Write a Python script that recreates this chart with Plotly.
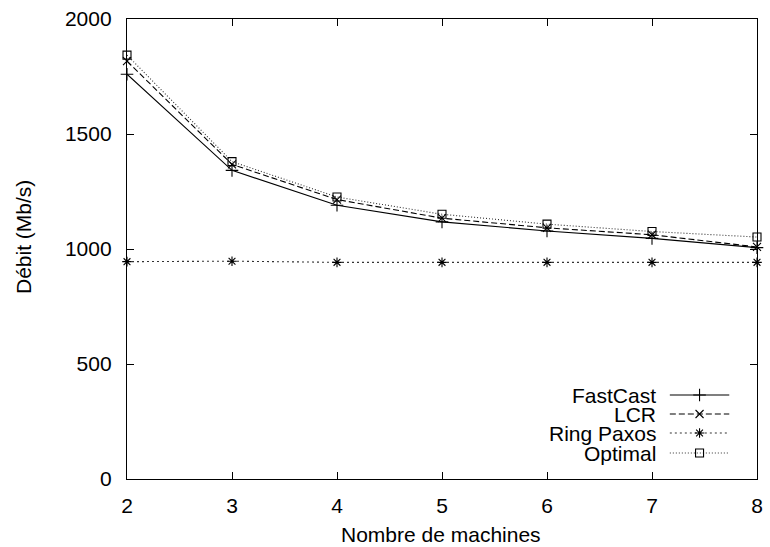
import plotly.graph_objects as go

machines = [2, 3, 4, 5, 6, 7, 8]
fastcast = [1760, 1342, 1190, 1118, 1078, 1046, 1006]
lcr = [1817, 1368, 1215, 1134, 1092, 1062, 1009]
ring_paxos = [945, 947, 942, 942, 942, 942, 942]
optimal = [1843, 1380, 1226, 1151, 1108, 1076, 1052]

x_ticks = [2, 3, 4, 5, 6, 7, 8]
y_ticks = [0, 500, 1000, 1500, 2000]

series_names = ["FastCast", "LCR", "Ring Paxos", "Optimal"]
series_values = [fastcast, lcr, ring_paxos, optimal]
dashes = ["solid", "6px,3px", "2px,3px", "1px,2px"]
colors = ["#000000", "#000000", "#333333", "#333333"]
symbols = ["cross-thin-open", "x-thin-open", "asterisk-open", "square-open"]
msizes = [9, 8, 8, 8]

FONT = "Liberation Sans, Arial, Helvetica, sans-serif"
FS = 21

fig = go.Figure()
for name, vals, dash, col, sym, ms in zip(series_names, series_values, dashes, colors, symbols, msizes):
    fig.add_trace(go.Scatter(
        x=machines, y=vals, name=name, mode="lines+markers",
        line=dict(color=col, width=1.1, dash=dash),
        marker=dict(symbol=sym, size=ms, color="black", line=dict(color="black", width=1.1)),
        showlegend=False, cliponaxis=False,
    ))

# manual gnuplot-style legend (text left, sample right)
W, H = 636, 460
L, T = 127, 19
def px_x(p):
    return (p - L) / W
def px_y(p):
    return (T + H - p) / H

rows = [395, 414, 433, 453]
text_right = 663
line_x0, line_x1, mark_x = 675, 735, 705
for name, dash, col, sym, ms, ry in zip(series_names, dashes, colors, symbols, msizes, rows):
    fig.add_annotation(x=px_x(text_right), y=px_y(ry), xref="paper", yref="paper",
                       text=name, showarrow=False, xanchor="right", yanchor="middle",
                       font=dict(family=FONT, size=FS, color="black"))
    fig.add_trace(go.Scatter(
        x=[px_x(line_x0), px_x(mark_x), px_x(line_x1)], y=[px_y(ry)] * 3,
        xaxis="x2", yaxis="y2", mode="lines", showlegend=False, hoverinfo="skip",
        line=dict(color=col, width=1.1, dash=dash), cliponaxis=False))
    fig.add_trace(go.Scatter(
        x=[px_x(mark_x)], y=[px_y(ry)],
        xaxis="x2", yaxis="y2", mode="markers", showlegend=False, hoverinfo="skip",
        marker=dict(symbol=sym, size=ms, color="black", line=dict(color="black", width=1.1)),
        cliponaxis=False))

fig.add_annotation(x=px_x(444), y=px_y(534), xref="paper", yref="paper",
                   text="Nombre de machines", showarrow=False, xanchor="center", yanchor="middle",
                   font=dict(family=FONT, size=FS, color="black"))
fig.add_annotation(x=px_x(22), y=px_y(237), xref="paper", yref="paper",
                   text="Débit (Mb/s)", showarrow=False, textangle=-90,
                   xanchor="center", yanchor="middle",
                   font=dict(family=FONT, size=FS, color="black"))

axis_common = dict(showgrid=False, zeroline=False, showline=True, linecolor="black",
                   linewidth=1.3, mirror="ticks", ticks="inside", ticklen=7,
                   tickcolor="black", tickwidth=1,
                   tickfont=dict(family=FONT, size=FS, color="black"))

fig.update_layout(
    width=770, height=547,
    margin=dict(l=127, r=7, t=19, b=68),
    paper_bgcolor="white", plot_bgcolor="white",
    font=dict(family=FONT, size=FS, color="black"),
    xaxis=dict(range=[2, 8], tickvals=x_ticks, ticktext=[str(v) for v in x_ticks],
               ticklabelstandoff=8, **axis_common),
    yaxis=dict(range=[0, 2000], tickvals=y_ticks, ticktext=[str(v) for v in y_ticks],
               ticklabelstandoff=10, **axis_common),
    xaxis2=dict(range=[0, 1], overlaying="x", visible=False),
    yaxis2=dict(range=[0, 1], overlaying="y", visible=False),
    showlegend=False,
)

fig.write_html("out.html", config={"displayModeBar": False},
               post_script="document.body.style.margin='0';document.body.style.padding='0';")
